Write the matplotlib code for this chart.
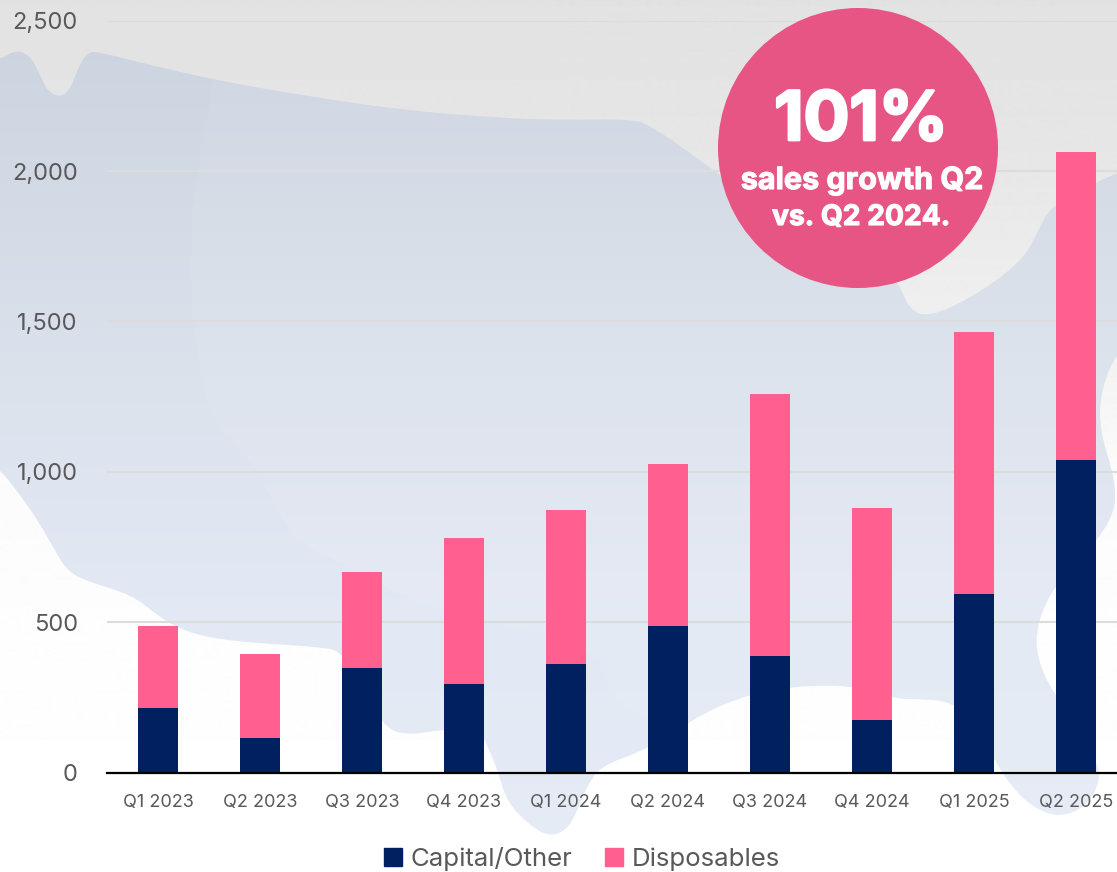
import numpy as np
import matplotlib
matplotlib.use('Agg')
import matplotlib.pyplot as plt
import matplotlib.patheffects as pe
from matplotlib.path import Path
from matplotlib.patches import PathPatch, Circle, Patch
from matplotlib.ticker import FuncFormatter

quarters = ['Q1 2023', 'Q2 2023', 'Q3 2023', 'Q4 2023', 'Q1 2024',
            'Q2 2024', 'Q3 2024', 'Q4 2024', 'Q1 2025', 'Q2 2025']
capital = [215, 115, 348, 295, 361, 488, 388, 175, 594, 1040]
totals = [488, 395, 667, 780, 873, 1026, 1259, 880, 1465, 2063]
disposables = [t - c for t, c in zip(totals, capital)]
y_ticks = [0, 500, 1000, 1500, 2000, 2500]

# background artwork, in pixels of the 1117x872 picture
map_outline = [(-30, 60), (0, 60), (15, 50), (30, 55), (40, 75), (48, 92), (60, 97), (70, 90), (78, 68), (88, 51),
               (103, 53), (150, 65), (215, 80), (300, 95), (400, 110), (500, 118), (560, 120), (630, 119), (650, 125),
               (700, 160), (760, 205), (830, 245), (890, 270), (900, 287), (910, 310), (928, 317), (968, 300),
               (1021, 263), (1039, 230), (1050, 207), (1090, 185), (1125, 170), (1140, 170), (1140, 350), (1117, 350),
               (1100, 393), (1100, 432), (1116, 482), (1114, 519), (1075, 565), (1050, 592), (1035, 632), (1039, 665),
               (1057, 699), (1085, 735), (1098, 765), (1100, 779), (1089, 805), (1060, 818), (1032, 807), (1010, 785),
               (994, 759), (975, 725), (953, 702), (921, 699), (896, 699), (860, 687), (814, 685), (771, 690), (736, 699),
               (700, 715), (646, 750), (603, 765), (589, 782), (578, 809), (568, 829), (550, 837), (529, 825), (507, 802),
               (498, 772), (489, 749), (479, 729), (446, 729), (411, 735), (387, 730), (370, 700), (343, 652), (321, 647),
               (268, 644), (214, 639), (179, 629), (157, 615), (132, 595), (89, 582), (68, 572), (54, 549), (39, 522),
               (18, 492), (0, 470), (-30, 440)]
inner_edge = [(215, 80), (198, 160), (189, 250), (193, 330), (205, 400), (221, 432), (250, 459), (279, 512), (296, 542),
              (339, 562), (393, 592), (464, 619), (575, 639), (603, 665), (611, 695), (646, 719), (700, 760), (700, 900),
              (1200, 900), (1200, 0), (215, 0)]
bg_stops = [0, 150, 310, 470, 600, 872]
bg_grey = [0.886, 0.902, 0.937, 0.984, 0.992, 1.0]
map_stops = [60, 400, 600, 872]
map_rgb = [(0.804, 0.835, 0.882), (0.863, 0.890, 0.929), (0.890, 0.914, 0.957), (0.902, 0.925, 0.965)]


def smooth_path(pts):
    # closed quadratic spline through the midpoints
    pts = np.array(pts, dtype=float)
    mids = (pts + np.roll(pts, -1, axis=0)) / 2
    verts = [mids[-1]]
    codes = [Path.MOVETO]
    for p, m in zip(pts, mids):
        verts += [p, m]
        codes += [Path.CURVE3, Path.CURVE3]
    return Path(verts, codes)


plt.rcParams['font.family'] = ['Inter', 'DejaVu Sans']
fig = plt.figure(figsize=(11.17, 8.72), dpi=100)

bg = fig.add_axes([0, 0, 1, 1], zorder=0)
bg.set_xlim(0, 1117)
bg.set_ylim(872, 0)
bg.axis('off')
rows = np.arange(872)
grey = np.interp(rows, bg_stops, bg_grey)
bg.imshow(grey[:, None], cmap='gray', vmin=0, vmax=1, extent=(0, 1117, 872, 0), aspect='auto', zorder=0)
map_img = np.stack([np.interp(rows, map_stops, [c[i] for c in map_rgb]) for i in range(3)], axis=1)[:, None, :]
im = bg.imshow(map_img, extent=(0, 1117, 872, 0), aspect='auto', zorder=1)
outline = PathPatch(smooth_path(map_outline), fc='none', ec='none', transform=bg.transData)
bg.add_patch(outline)
im.set_clip_path(outline)
lighter = PathPatch(smooth_path(inner_edge), fc='white', ec='none', alpha=0.07, zorder=2)
bg.add_patch(lighter)
lighter.set_clip_path(outline)
bg.set_xlim(0, 1117)
bg.set_ylim(872, 0)

ax = fig.add_axes([107 / 1117, (872 - 772.7) / 872, 1 - 107 / 1117, 752 / 872], zorder=1)
ax.patch.set_alpha(0)
x = np.arange(len(quarters))
ax.bar(x, capital, width=40 / 102, color='#002060', zorder=3)
ax.bar(x, disposables, bottom=capital, width=40 / 102, color='#ff6090', zorder=3)
ax.set_xlim((107 - 158) / 102, (1117 - 158) / 102)
ax.set_ylim(0, 2500)
ax.set_xticks(x, quarters)
ax.set_yticks(y_ticks)
ax.yaxis.set_major_formatter(FuncFormatter(lambda v, p: f'{int(v):,}'))
ax.grid(axis='y', color='#dcdcdc', lw=1.5, zorder=1)
ax.set_axisbelow(True)
for s in ['top', 'left', 'right']:
    ax.spines[s].set_visible(False)
ax.spines['bottom'].set_linewidth(1.6)
ax.spines['bottom'].set_color('black')
ax.spines['bottom'].set_zorder(4)
ax.tick_params(axis='y', length=0, labelsize=17, labelcolor='#595959', pad=21)
ax.tick_params(axis='x', length=0, labelsize=13, labelcolor='#595959', pad=15)

handles = [Patch(color='#002060', label='Capital/Other'), Patch(color='#ff6090', label='Disposables')]
fig.legend(handles=handles, loc='center', bbox_to_anchor=(582 / 1117, 1 - 859 / 872), ncol=2, frameon=False,
           fontsize=18.6, labelcolor='#595959', handlelength=0.7, handleheight=0.7, handletextpad=0.35,
           columnspacing=1.25, borderpad=0, borderaxespad=0)

top = fig.add_axes([0, 0, 1, 1], zorder=5)
top.set_xlim(0, 1117)
top.set_ylim(872, 0)
top.axis('off')
top.add_patch(Circle((858, 148), 140, fc='#e75584', ec='none'))
heavy = [pe.withStroke(linewidth=2, foreground='white')]
heavy_small = [pe.withStroke(linewidth=0.8, foreground='white')]
top.text(861, 140, '101%', color='white', fontsize=49, fontweight='bold', ha='center', va='baseline', path_effects=heavy)
top.text(862, 189, 'sales growth Q2', color='white', fontsize=22, fontweight='bold', ha='center', va='baseline',
         path_effects=heavy_small)
top.text(861, 225, 'vs. Q2 2024.', color='white', fontsize=20.3, fontweight='bold', ha='center', va='baseline',
         path_effects=heavy_small)

fig.savefig('out.png', dpi=100)
